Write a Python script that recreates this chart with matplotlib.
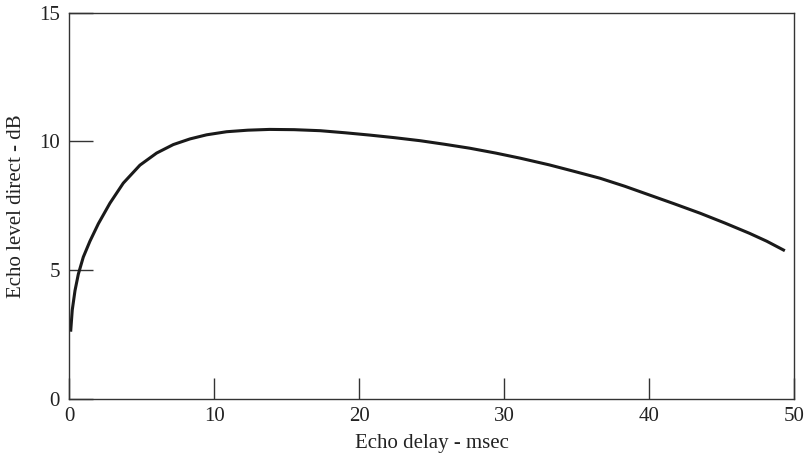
import matplotlib.pyplot as plt

# values
delay_ms = [0.08, 0.19, 0.38, 0.61, 0.95, 1.41, 1.99, 2.79, 3.71, 4.86,
            6.01, 7.16, 8.31, 9.46, 10.84, 12.3, 13.8, 15.5, 17.3, 19.0,
            20.7, 22.4, 24.2, 25.9, 27.6, 29.4, 31.1, 33.1, 34.8, 36.6,
            38.3, 40.0, 41.7, 43.5, 45.2, 46.9, 48.1, 49.35]
echo_db = [2.6, 3.44, 4.2, 4.84, 5.5, 6.12, 6.8, 7.6, 8.38, 9.08,
           9.55, 9.88, 10.1, 10.26, 10.38, 10.44, 10.47, 10.46, 10.42, 10.34,
           10.25, 10.15, 10.03, 9.89, 9.74, 9.55, 9.35, 9.09, 8.84, 8.57,
           8.26, 7.92, 7.58, 7.21, 6.83, 6.43, 6.12, 5.75]

x_ticks = [0, 10, 20, 30, 40, 50]
y_ticks = [0, 5, 10, 15]

plt.rcParams["font.family"] = ["Liberation Serif", "DejaVu Serif"]

fig = plt.figure(figsize=(8.09, 4.59), dpi=100, facecolor="white")
ax = fig.add_axes([0.0859, 0.1318, 0.8959, 0.8399])

ax.plot(delay_ms, echo_db, color="#1a1a1a", linewidth=2.2,
        solid_joinstyle="round", solid_capstyle="butt")

ax.set_xlim(0, 50)
ax.set_ylim(0, 15)
ax.set_xticks(x_ticks)
ax.set_yticks(y_ticks)

for s in ax.spines.values():
    s.set_color("#333333")
    s.set_linewidth(1.0)

ax.tick_params(axis="x", direction="in", length=15, width=1.0,
               color="#333333", labelsize=15, pad=6, labelcolor="#222222")
ax.tick_params(axis="y", direction="in", length=17, width=1.0,
               color="#333333", labelsize=15, pad=7, labelcolor="#222222")

ax.set_xlabel("Echo delay - msec", fontsize=15, color="#222222", labelpad=6)
ax.set_ylabel("Echo level direct - dB", fontsize=15, color="#222222",
              labelpad=9)

fig.savefig("out.png", dpi=100, facecolor="white")
